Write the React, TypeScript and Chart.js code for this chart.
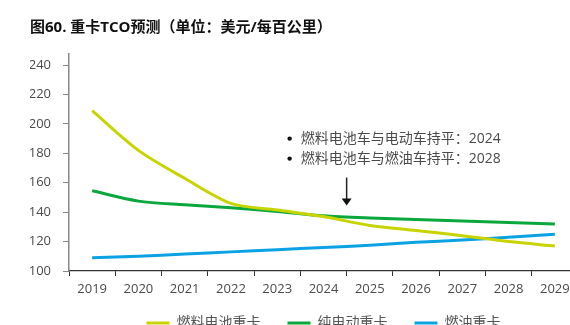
import React, { useEffect, useRef } from "react";
import { Chart, registerables } from "chart.js";

Chart.register(...registerables);

const years = ["2019", "2020", "2021", "2022", "2023", "2024", "2025", "2026", "2027", "2028", "2029"];
const fuelCell = [209, 182, 163, 146, 141.5, 137, 131, 127.5, 124, 120, 117];
const bev = [154.5, 147.5, 145, 143, 140.5, 137.5, 136, 135, 134, 133, 132];
const diesel = [109, 110, 111.5, 113, 114.5, 116, 117.5, 119.5, 121, 123, 125];
const seriesNames = ["燃料电池重卡", "纯电动重卡", "燃油重卡"];
const notes = ["燃料电池车与电动车持平：2024", "燃料电池车与燃油车持平：2028"];
const titleText = "图60. 重卡TCO预测（单位：美元/每百公里）";

const FONT = '"Open Sans", "Noto Sans CJK SC", sans-serif';

const annotationPlugin = {
  id: "notes",
  afterDatasetsDraw(chart: any) {
    const ctx = chart.ctx;
    const x = chart.scales.x;
    const y = chart.scales.y;
    const ax = (x.getPixelForValue(5) + x.getPixelForValue(6)) / 2;
    ctx.save();
    ctx.font = `14px ${FONT}`;
    ctx.textBaseline = "middle";
    ctx.textAlign = "left";
    const y1 = y.getPixelForValue(190);
    notes.forEach((t, i) => {
      const ty = y1 + i * 20;
      ctx.fillStyle = "#111";
      ctx.beginPath();
      ctx.arc(ax - 57, ty, 2.2, 0, Math.PI * 2);
      ctx.fill();
      ctx.fillStyle = "#4a4a4a";
      ctx.fillText(t, ax - 46, ty);
    });
    const top = y.getPixelForValue(163.5);
    const tip = y.getPixelForValue(144.5);
    ctx.strokeStyle = "#222";
    ctx.lineWidth = 1.5;
    ctx.beginPath();
    ctx.moveTo(ax, top);
    ctx.lineTo(ax, tip - 5);
    ctx.stroke();
    ctx.fillStyle = "#111";
    ctx.beginPath();
    ctx.moveTo(ax - 5, tip - 7);
    ctx.lineTo(ax + 5, tip - 7);
    ctx.lineTo(ax, tip);
    ctx.closePath();
    ctx.fill();
    ctx.restore();
  },
};

export default function App() {
  const ref = useRef<HTMLCanvasElement>(null);
  useEffect(() => {
    const canvas = ref.current!;
    const chart = new Chart(canvas, {
      type: "line",
      data: {
        labels: years,
        datasets: [
          { label: seriesNames[0], data: fuelCell, borderColor: "#c8d400", backgroundColor: "#c8d400" },
          { label: seriesNames[1], data: bev, borderColor: "#0aa83c", backgroundColor: "#0aa83c" },
          { label: seriesNames[2], data: diesel, borderColor: "#0ba2e4", backgroundColor: "#0ba2e4" },
        ].map((d) => ({ ...d, borderWidth: 3, pointRadius: 0, tension: 0.3, fill: false })),
      },
      options: {
        animation: false,
        responsive: false,
        maintainAspectRatio: false,
        layout: { padding: { left: 30, right: 2, top: 0, bottom: 0 } },
        plugins: {
          title: {
            display: true,
            text: titleText,
            align: "start",
            color: "#111",
            font: { family: FONT, size: 15, weight: "bold" },
            padding: { top: 19, bottom: 17 },
          },
          legend: {
            position: "bottom",
            fullSize: false,
            labels: {
              boxWidth: 23,
              boxHeight: 3,
              padding: 27,
              color: "#555",
              font: { family: FONT, size: 14 },
              generateLabels: (c: any) =>
                (Chart.defaults.plugins.legend.labels.generateLabels as any)(c).map((l: any) => ({
                  ...l,
                  lineWidth: 0,
                })),
            },
          },
          tooltip: { enabled: false },
        },
        scales: {
          x: {
            offset: true,
            grid: { display: true, drawOnChartArea: false, drawTicks: true, tickLength: 5, color: "#333", offset: true },
            border: { display: true, color: "#333", width: 1.2 },
            ticks: { color: "#4a4a4a", font: { family: FONT, size: 13 }, padding: 5, maxRotation: 0, autoSkip: false },
            afterFit: (s: any) => {
              s.height = 18;
              s._computeLabelArea = () => undefined;
            },
          },
          y: {
            min: 100,
            max: 247.5,
            grid: { display: true, drawOnChartArea: false, drawTicks: true, tickLength: 6, color: "#888" },
            border: { display: true, color: "#888", width: 1.5 },
            ticks: { stepSize: 20, includeBounds: false, color: "#4a4a4a", font: { family: FONT, size: 13 }, padding: 12 },
            afterFit: (s: any) => {
              s.width = 39;
            },
          },
        },
      } as any,
      plugins: [annotationPlugin],
    });
    return () => chart.destroy();
  }, []);
  return (
    <div style={{ position: "fixed", left: 0, top: 0, width: 570, height: 325, overflow: "hidden", background: "#fff" }}>
      <canvas ref={ref} width={580} height={340} style={{ width: 580, height: 340, display: "block" }} />
    </div>
  );
}
